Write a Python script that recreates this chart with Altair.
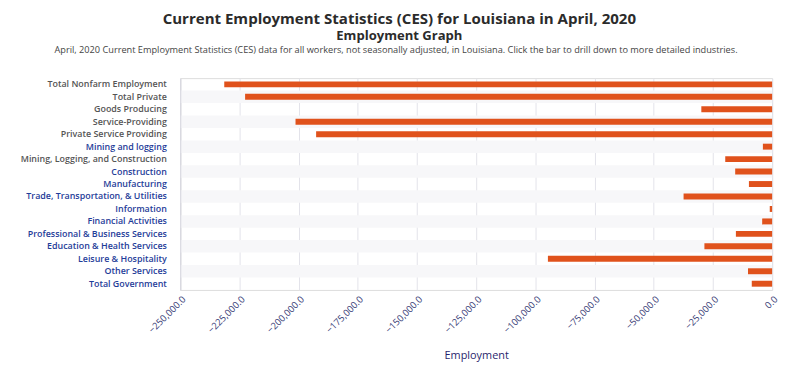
import altair as alt
import pandas as pd

industries = [
    "Total Nonfarm Employment", "Total Private", "Goods Producing", "Service-Providing",
    "Private Service Providing", "Mining and logging", "Mining, Logging, and Construction",
    "Construction", "Manufacturing", "Trade, Transportation, & Utilities", "Information",
    "Financial Activities", "Professional & Business Services", "Education & Health Services",
    "Leisure & Hospitality", "Other Services", "Total Government",
]
change = [
    -231400, -222600, -29900, -201300, -192600, -3900, -19800, -15600, -9800,
    -37400, -1000, -4200, -15300, -28600, -94700, -10200, -8600,
]
links = [
    "Mining and logging", "Construction", "Manufacturing", "Trade, Transportation, & Utilities",
    "Information", "Financial Activities", "Professional & Business Services",
    "Education & Health Services", "Leisure & Hospitality", "Other Services", "Total Government",
]
x_ticks = [-250000, -225000, -200000, -175000, -150000, -125000, -100000, -75000, -50000, -25000, 0]
description = ("April, 2020 Current Employment Statistics (CES) data for all workers, not seasonally "
               "adjusted, in Louisiana. Click the bar to drill down to more detailed industries.")

df = pd.DataFrame({"industry": industries, "change": change})
df["row"] = range(len(df))
df["shade"] = df["row"] % 2 == 1
df["lo"] = -250000
df["hi"] = 0

FONT = "Open Sans"
link_list = "[" + ",".join("'" + s.replace("'", "\\'") + "'" for s in links) + "]"

y_enc = alt.Y(
    "industry:N", sort=industries, title=None,
    scale=alt.Scale(paddingInner=0, paddingOuter=0),
    axis=alt.Axis(
        labelFont=FONT, labelFontSize=9, labelFontWeight=600,
        labelColor=alt.expr(f"indexof({link_list}, datum.value) >= 0 ? '#1f3d99' : '#555555'"),
        ticks=False, labelPadding=14, domain=True, domainColor="#d5d5dd",
        labelLimit=300,
    ),
)

bands = alt.Chart(df).transform_filter("datum.shade").mark_rect(color="#f7f7f9").encode(
    y=y_enc, x=alt.X("lo:Q"), x2="hi:Q"
)

bars = alt.Chart(df).mark_bar(color="#e0521c", size=6).encode(
    y=y_enc,
    x=alt.X(
        "change:Q", title="Employment",
        scale=alt.Scale(domain=[-250000, 0], nice=False),
        axis=alt.Axis(
            values=x_ticks, format=",.1f", labelAngle=-45, labelFont=FONT, labelFontSize=9.5,
            labelColor="#3b4178", titleFont=FONT, titleFontSize=11, titleColor="#2a1f6e",
            titleFontWeight="normal", titlePadding=15, domain=False, ticks=False,
            gridColor="#e3e3ea", labelPadding=4,
        ),
    ),
)

desc = alt.Chart(pd.DataFrame({"t": [description]})).mark_text(
    font=FONT, fontSize=9.3, color="#444444", align="center", baseline="middle"
).encode(text="t:N", x=alt.value(218), y=alt.value(-28))

chart = alt.layer(bands, bars, desc).properties(
    width=598, height=214,
    title=alt.TitleParams(
        text="Current Employment Statistics (CES) for Louisiana in April, 2020",
        subtitle="Employment Graph",
        font=FONT, fontSize=15.2, fontWeight="bold", color="#2b2b2b",
        subtitleFont=FONT, subtitleFontSize=13.2, subtitleFontWeight="bold", subtitleColor="#2b2b2b",
        anchor="middle", frame="bounds", offset=4, subtitlePadding=3,
    ),
).configure_view(stroke=None).configure(background="white", padding={"left": 12, "right": 5, "top": 2, "bottom": 5})

chart.save("out.html", embed_options={"renderer": "svg", "actions": False})
